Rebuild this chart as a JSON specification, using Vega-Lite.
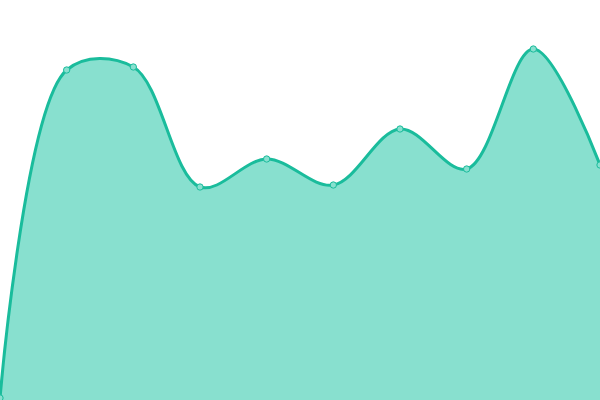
{
  "$schema": "https://vega.github.io/schema/vega-lite/v6.json",
  "autosize": "none",
  "width": 600,
  "height": 400,
  "padding": 0,
  "background": "white",
  "config": {"view": {"stroke": null}},
  "data": {
    "values": [
      {"i": 0, "v": 2},
      {"i": 1, "v": 330},
      {"i": 2, "v": 333},
      {"i": 3, "v": 213},
      {"i": 4, "v": 241},
      {"i": 5, "v": 215},
      {"i": 6, "v": 271},
      {"i": 7, "v": 231},
      {"i": 8, "v": 351},
      {"i": 9, "v": 235}
    ]
  },
  "encoding": {
    "x": {"field": "i", "type": "quantitative", "scale": {"domain": [0, 9], "nice": false}, "axis": null},
    "y": {"field": "v", "type": "quantitative", "scale": {"domain": [0, 400], "nice": false}, "axis": null}
  },
  "layer": [
    {"mark": {"type": "area", "interpolate": "catmull-rom", "color": "#88e0cf", "opacity": 1}},
    {"mark": {"type": "line", "interpolate": "catmull-rom", "color": "#1abc9c", "strokeWidth": 3}},
    {"mark": {"type": "point", "filled": true, "fill": "#88e0cf", "stroke": "#1abc9c", "strokeWidth": 1, "size": 40, "opacity": 1}}
  ]
}
